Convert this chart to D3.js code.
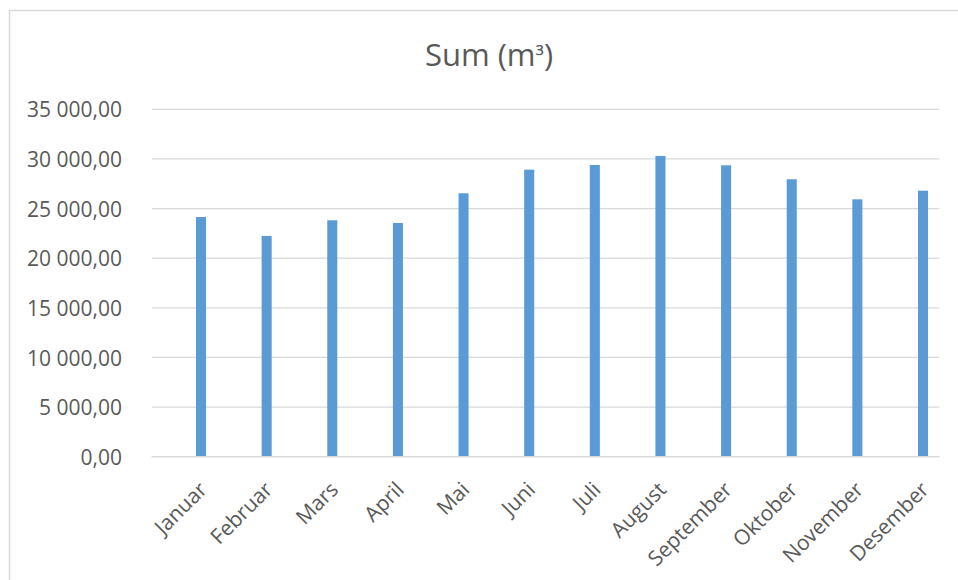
<!DOCTYPE html>
<html>
<head>
<meta charset="utf-8">
<script src="https://cdn.jsdelivr.net/npm/d3@7"></script>
<style>
  html, body { margin: 0; padding: 0; background: #fff; }
  svg { display: block; }
  text { font-family: "Open Sans", "Noto Sans", sans-serif; fill: #595959; }
</style>
</head>
<body>
<svg id="chart" width="958" height="580"></svg>
<script>
// Monthly totals (m³)
const months = ["Januar", "Februar", "Mars", "April", "Mai", "Juni",
                "Juli", "August", "September", "Oktober", "November", "Desember"];
const sums = [24150, 22240, 23820, 23550, 26540, 28920,
              29390, 30300, 29360, 27950, 25930, 26800];
const yTicks = [0, 5000, 10000, 15000, 20000, 25000, 30000, 35000];
const titleParts = ["Sum (m", "³", ")"];

const svg = d3.select("#chart");
const W = 958, H = 580;

// plot area
const plot = { left: 151.7, right: 939.3, top: 109.3, bottom: 456.7 };

const x = d3.scaleBand().domain(months).range([plot.left, plot.right]).padding(0);
const y = d3.scaleLinear().domain([0, 35000]).range([plot.bottom, plot.top]);

// bar sits in the right part of each category slot
const slot = d3.scaleLinear().domain([0, 1]).range([0, x.bandwidth()]);
const barStart = 0.675, barEnd = 0.828;
const barX = m => x(m) + slot(barStart);
const barW = slot(barEnd) - slot(barStart);
const barMid = m => barX(m) + barW / 2;

const nb = d3.formatLocale({ decimal: ",", thousands: " ", grouping: [3], currency: ["", ""] });
const fmt = nb.format(",.2f");

// chart frame
svg.append("path")
  .attr("d", `M9.5,${H} V10.5 H${W}`)
  .attr("fill", "none")
  .attr("stroke", "#d9d9d9")
  .attr("stroke-width", 1.5);

// title
const title = svg.append("text")
  .attr("x", 489).attr("y", 66)
  .attr("text-anchor", "middle")
  .style("font-size", "31px");
title.append("tspan").text(titleParts[0]);
title.append("tspan").style("font-size", "24px").attr("dy", "-1").text(titleParts[1]);
title.append("tspan").attr("dy", "1").text(titleParts[2]);

// gridlines
svg.append("g")
  .selectAll("line")
  .data(yTicks)
  .join("line")
  .attr("x1", plot.left).attr("x2", plot.right)
  .attr("y1", d => y(d)).attr("y2", d => y(d))
  .attr("stroke", "#d9d9d9")
  .attr("stroke-width", 1.3);

// y axis labels
const yAxis = d3.axisLeft(y).tickValues(yTicks).tickFormat(fmt).tickSize(0).tickPadding(0);
const gy = svg.append("g").attr("transform", `translate(122,0)`).call(yAxis);
gy.select(".domain").remove();
gy.selectAll("text")
  .attr("fill", "#595959")
  .style("font-family", '"Open Sans", "Noto Sans", sans-serif')
  .style("font-size", "21px")
  .attr("dy", "0.36em");

// bars
svg.append("g")
  .selectAll("rect")
  .data(months.map((m, i) => ({ m, v: sums[i] })))
  .join("rect")
  .attr("x", d => barX(d.m))
  .attr("width", barW)
  .attr("y", d => y(d.v))
  .attr("height", d => y(0) - y(d.v))
  .attr("fill", "#5b9bd5");

// category axis line
svg.append("line")
  .attr("x1", plot.left).attr("x2", plot.right)
  .attr("y1", y(0)).attr("y2", y(0))
  .attr("stroke", "#d9d9d9")
  .attr("stroke-width", 1.3);

// rotated month labels
svg.append("g")
  .selectAll("text")
  .data(months)
  .join("text")
  .attr("transform", m => `translate(${barMid(m) + 2},${y(0) + 29}) rotate(-45)`)
  .attr("text-anchor", "end")
  .attr("dy", "0.35em")
  .style("font-size", "21px")
  .text(m => m);
</script>
</body>
</html>
